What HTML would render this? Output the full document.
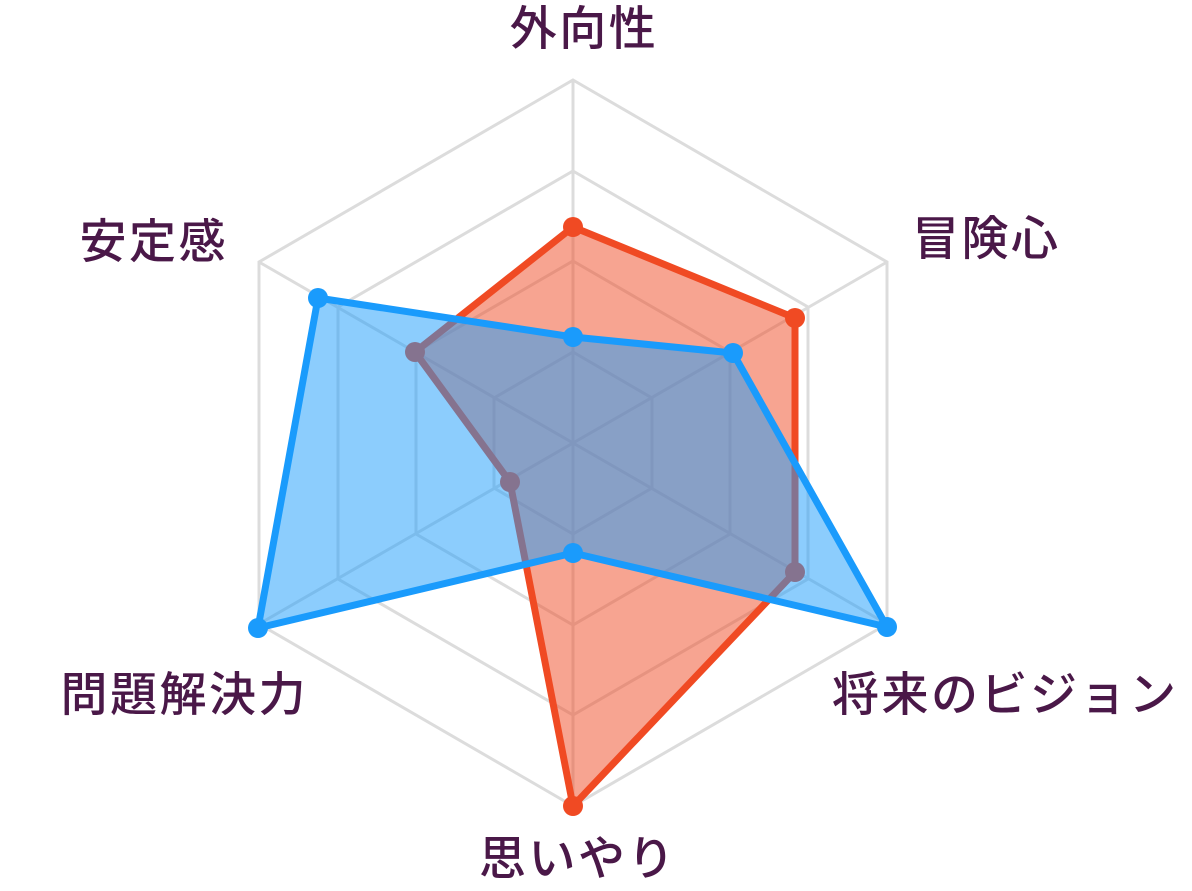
<!DOCTYPE html>
<html><head><meta charset="utf-8"><style>
html,body{margin:0;padding:0;background:#fff;}
svg{display:block;}
text{font-family:"Liberation Sans","Noto Sans CJK JP",sans-serif;font-size:47px;font-weight:500;letter-spacing:2.5px;fill:#4a1848;}
</style></head><body>
<svg width="1192" height="891" viewBox="0 0 1192 891">
<g fill="none" stroke="#dcdcdc" stroke-width="3">
<polygon points="573,80 887,262 887,624 573,806 259,624 259,262"/>
<polygon points="573,171 808,307 808,579 573,715 338,579 338,307"/>
<polygon points="573,261 730,352 730,534 573,625 416,534 416,352"/>
<polygon points="573,352 652,398 652,488 573,534 494,488 494,398"/>
<line x1="573" y1="80" x2="573" y2="806"/>
<line x1="259" y1="262" x2="887" y2="624"/>
<line x1="887" y1="262" x2="259" y2="624"/>
</g>
<polygon points="573,227 795,318 795,572 573,806 510,482 415,352" fill="rgba(240,74,35,0.5)" stroke="#f04a23" stroke-width="7" stroke-linejoin="round"/>
<g fill="#f04a23"><circle cx="573" cy="227" r="10"/><circle cx="795" cy="318" r="10"/><circle cx="795" cy="572" r="10"/><circle cx="573" cy="806" r="10"/><circle cx="510" cy="482" r="10"/><circle cx="415" cy="352" r="10"/></g>
<polygon points="573,337 733,353 887,627 573,553 258,628 318,298" fill="rgba(26,155,252,0.5)"/>
<polygon points="573,337 733,353 887,627 573,553 258,628 318,298" fill="none" stroke="#1a9bfc" stroke-width="7" stroke-linejoin="round"/>
<g fill="#1a9bfc"><circle cx="573" cy="337" r="10"/><circle cx="733" cy="353" r="10"/><circle cx="887" cy="627" r="10"/><circle cx="573" cy="553" r="10"/><circle cx="258" cy="628" r="10"/><circle cx="318" cy="298" r="10"/></g>
<text x="584" y="45" text-anchor="middle">外向性</text>
<text x="912" y="255">冒険心</text>
<text x="832" y="711">将来のビジョン</text>
<text x="578" y="875" text-anchor="middle">思いやり</text>
<text x="308" y="711" text-anchor="end">問題解決力</text>
<text x="228" y="258" text-anchor="end">安定感</text>
</svg>
</body></html>
